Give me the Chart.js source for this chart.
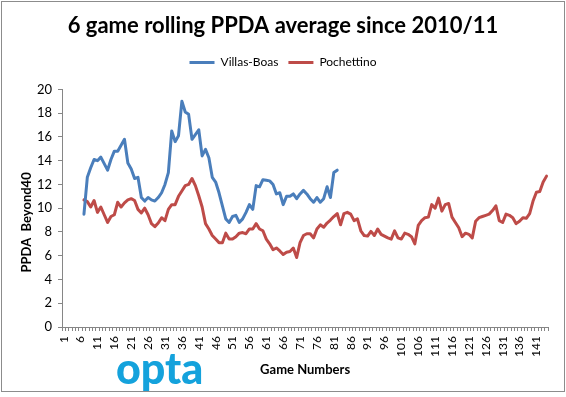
<!DOCTYPE html>
<html>
<head>
<meta charset="utf-8">
<script src="https://cdn.jsdelivr.net/npm/chart.js@4.4.1/dist/chart.umd.min.js"></script>
<style>
html, body { margin: 0; padding: 0; background: #fff; }
</style>
</head>
<body>
<canvas id="myChart" width="566" height="397"></canvas>
<script>
// game numbers on the category axis
var lastGame = 144;
var Games = Array.from({length: lastGame}, (v, i) => i + 1);
var labelEvery = 5;
var yTicks = {min: 0, max: 20, step: 2};

// 6 game rolling PPDA, both series start at game 7
var firstGame = 7;
var VillasBoas = [9.5, 12.6, 13.4, 14.1, 14.0, 14.3, 13.75, 13.2, 14.1, 14.8,
  14.8, 15.3, 15.8, 13.8, 13.3, 12.5, 12.6, 10.9, 10.6, 10.9,
  10.7, 10.6, 10.9, 11.3, 12.0, 13.0, 16.5, 15.6, 16.1, 19.0,
  18.1, 17.9, 15.8, 16.2, 16.6, 14.4, 14.95, 14.25, 12.6, 12.2,
  11.3, 10.2, 9.1, 8.8, 9.3, 9.4, 8.8, 9.1, 9.65, 10.3,
  9.9, 11.9, 11.8, 12.4, 12.35, 12.3, 12.0, 11.2, 11.3, 10.3,
  11.0, 11.0, 11.2, 10.8, 11.2, 11.5, 11.2, 10.8, 10.5, 10.9,
  10.5, 10.8, 11.8, 10.9, 13.0, 13.2];
var Pochettino = [10.7, 10.55, 10.1, 10.65, 9.65, 10.1, 9.45, 8.8, 9.3, 9.45,
  10.5, 10.1, 10.45, 10.7, 10.8, 10.65, 9.9, 9.6, 10.0, 9.45,
  8.7, 8.45, 8.75, 9.2, 8.95, 9.9, 10.3, 10.3, 11.0, 11.45,
  11.9, 12.0, 12.5, 11.9, 11.05, 10.1, 8.7, 8.25, 7.7, 7.4,
  7.1, 7.1, 7.9, 7.4, 7.4, 7.6, 7.9, 7.95, 7.85, 8.25,
  8.25, 8.7, 8.25, 8.1, 7.4, 7.0, 6.5, 6.65, 6.4, 6.1,
  6.3, 6.35, 6.65, 5.85, 7.1, 7.7, 7.85, 7.85, 7.5, 8.25,
  8.6, 8.4, 8.75, 9.0, 9.3, 9.55, 8.6, 9.55, 9.65, 9.5,
  8.95, 9.1, 8.1, 7.7, 7.65, 8.05, 7.7, 8.25, 7.8, 7.65,
  7.5, 7.4, 8.1, 7.5, 7.4, 7.9, 7.8, 7.6, 7.0, 8.55,
  8.95, 9.2, 9.25, 10.3, 10.0, 10.85, 9.75, 10.3, 10.4, 9.25,
  8.8, 8.35, 7.6, 7.9, 7.8, 7.5, 8.9, 9.2,
  9.3, 9.4, 9.5, 9.8, 10.2, 8.95, 8.8, 9.5, 9.4, 9.2,
  8.7, 8.9, 9.2, 9.15, 9.55, 10.6, 11.35, 11.4, 12.2, 12.7];

function alignToGames(vals) {
  return Games.map(g => {
    var i = g - firstGame;
    return (i >= 0 && i < vals.length) ? vals[i] : null;
  });
}

var axisGrey = '#868686';

var chartFrame = {
  id: 'chartFrame',
  beforeDraw(chart) {
    var ctx = chart.ctx;
    ctx.save();
    ctx.fillStyle = '#fff';
    ctx.fillRect(0, 0, chart.width, chart.height);
    ctx.restore();
  },
  afterDraw(chart) {
    var ctx = chart.ctx;
    ctx.save();
    ctx.strokeStyle = '#8c8c8c';
    ctx.lineWidth = 1;
    ctx.strokeRect(1.5, 1.5, 563, 390);
    // opta logo
    ctx.fillStyle = '#14a2dc';
    ctx.font = '900 43px Lato';
    ctx.textBaseline = 'alphabetic';
    ctx.textAlign = 'left';
    ctx.fillText('opta', 116, 384);
    ctx.restore();
  }
};

new Chart('myChart', {
  type: 'line',
  data: {
    labels: Games,
    datasets: [{
      label: 'Villas-Boas',
      data: alignToGames(VillasBoas),
      xAxisID: 'x',
      yAxisID: 'y',
      borderColor: '#4a7ebb',
      backgroundColor: '#4a7ebb',
      borderWidth: 3,
      pointRadius: 0,
      borderJoinStyle: 'round',
      borderCapStyle: 'round'
    }, {
      label: 'Pochettino',
      data: alignToGames(Pochettino),
      xAxisID: 'x',
      yAxisID: 'y',
      borderColor: '#be4b48',
      backgroundColor: '#be4b48',
      borderWidth: 3,
      pointRadius: 0,
      borderJoinStyle: 'round',
      borderCapStyle: 'round'
    }]
  },
  options: {
    responsive: false,
    animation: false,
    layout: {padding: {top: 0, left: 16, right: 16, bottom: 0}},
    plugins: {
      title: {
        display: true,
        text: '6 game rolling PPDA average since 2010/11',
        color: '#000',
        font: {family: 'Lato', size: 22, weight: 'bold', lineHeight: 1.2},
        padding: {top: 13, bottom: 7}
      },
      legend: {
        display: true,
        labels: {
          usePointStyle: true,
          pointStyle: 'line',
          pointStyleWidth: 25,
          color: '#000',
          padding: 10,
          font: {family: 'Lato', size: 12}
        }
      },
      tooltip: {enabled: false}
    },
    scales: {
      x: {
        offset: true,
        grid: {drawOnChartArea: false, drawTicks: true, tickLength: 4, color: axisGrey, offset: true},
        border: {display: true, color: axisGrey, width: 1},
        ticks: {
          autoSkip: false,
          minRotation: 90,
          maxRotation: 90,
          padding: 5,
          color: '#000',
          font: {family: 'Lato', size: 12},
          callback: function (value, index) {
            return index % labelEvery === 0 ? this.getLabelForValue(value) : '';
          }
        },
        title: {
          display: true,
          text: 'Game Numbers',
          color: '#000',
          font: {family: 'Lato', size: 13, weight: 'bold', lineHeight: 1.2},
          padding: {top: 0, bottom: 19}
        },
        afterFit: s => { s.height = 70; }
      },
      y: {
        min: yTicks.min,
        max: yTicks.max,
        grid: {drawOnChartArea: false, drawTicks: true, tickLength: 4, color: axisGrey},
        border: {display: true, color: axisGrey, width: 1},
        ticks: {
          stepSize: yTicks.step,
          padding: 6,
          color: '#000',
          font: {family: 'Lato', size: 13}
        },
        title: {
          display: true,
          text: 'PPDA  Beyond40' + '\u00a0'.repeat(9),
          color: '#000',
          font: {family: 'Lato', size: 13, weight: 'bold', lineHeight: 1.2},
          padding: {top: 3, bottom: 0}
        },
        afterFit: s => { s.width = 46; }
      },
      spacer: {
        type: 'linear',
        position: 'top',
        display: true,
        grid: {display: false},
        border: {display: false},
        ticks: {display: false},
        afterFit: s => { s.height = 11; }
      }
    }
  },
  plugins: [chartFrame]
});
</script>
</body>
</html>
